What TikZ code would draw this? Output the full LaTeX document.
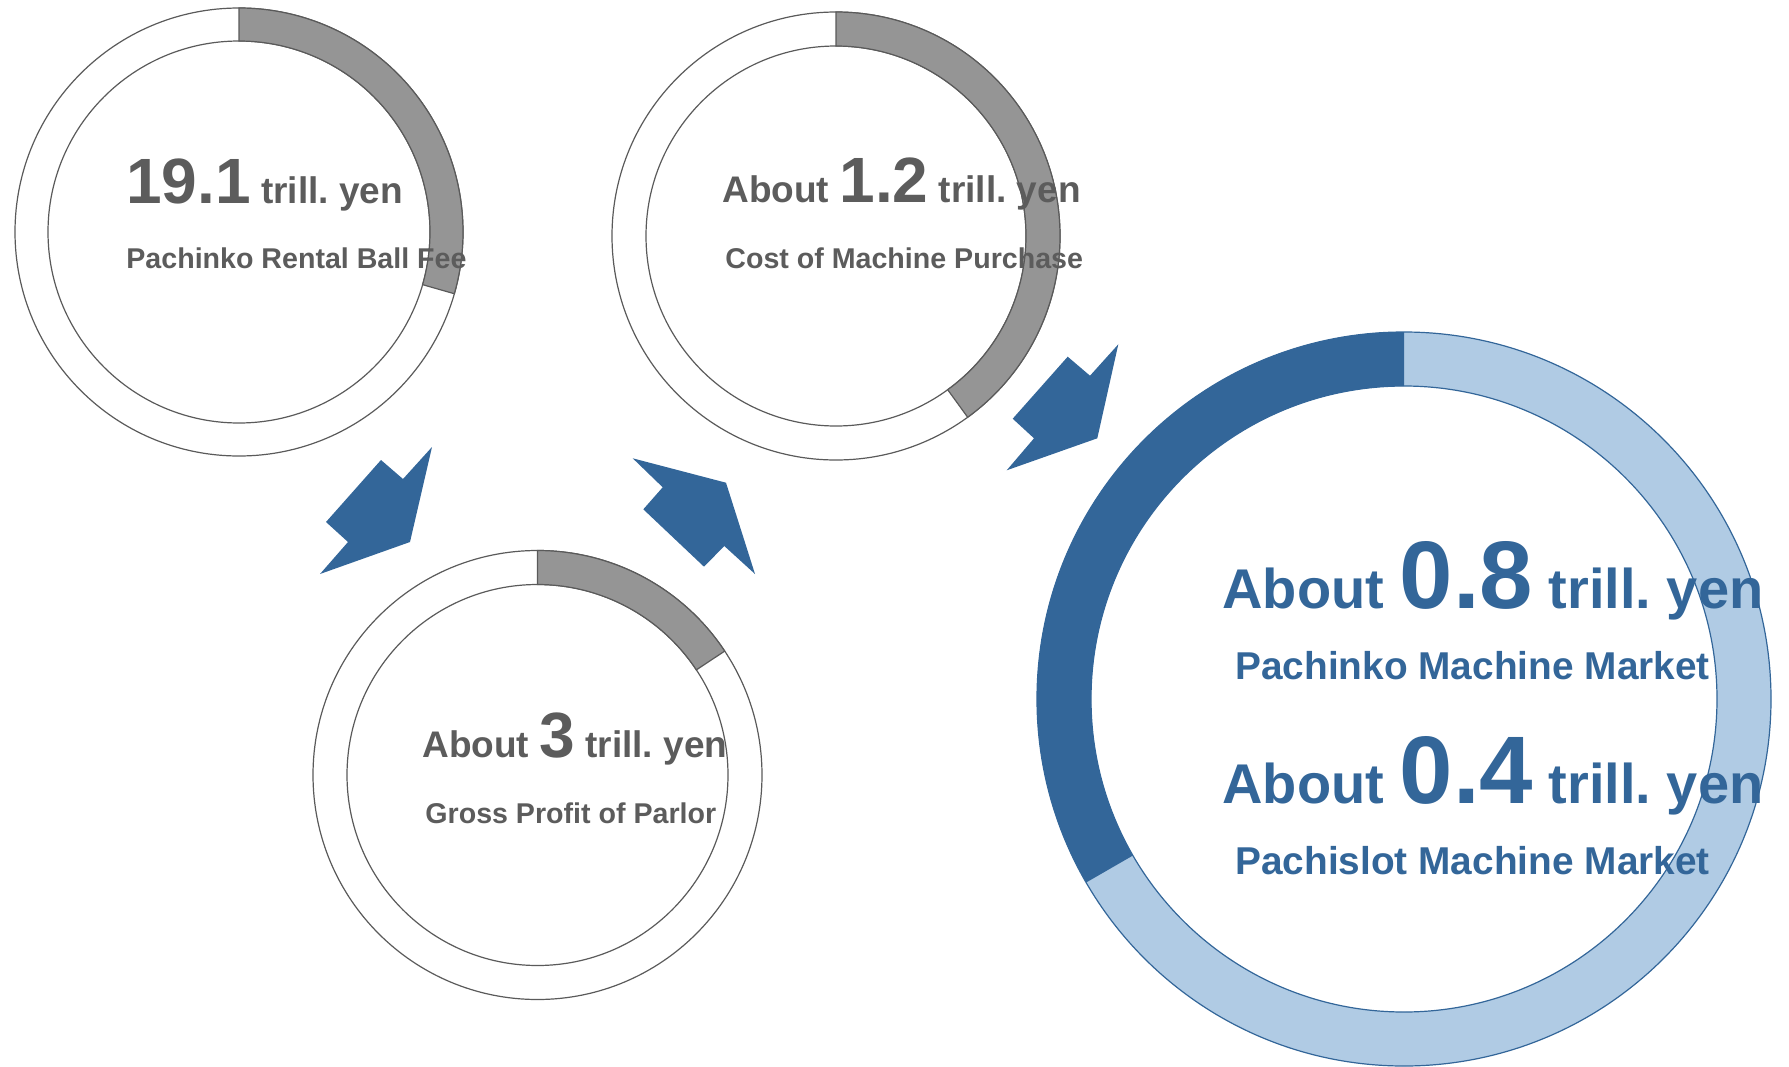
\documentclass[tikz,border=0pt]{standalone}
\usepackage{fontspec}
\setmainfont{Liberation Sans}
\usetikzlibrary{calc}
\frenchspacing
\definecolor{ringgray}{HTML}{959595}
\definecolor{linegray}{HTML}{5A5A5A}
\definecolor{txtgray}{HTML}{5C5C5C}
\definecolor{darkblue}{HTML}{336699}
\definecolor{lightblue}{HTML}{B0CBE4}
\newcommand\bignum[1]{{\fontsize{32}{34}\selectfont #1}}
\newcommand\hugenum[1]{{\fontsize{48}{50}\selectfont #1}}
\begin{document}
\begin{tikzpicture}[x=0.5pt,y=0.5pt,
  ringline/.style={draw=linegray,line width=0.6pt},
  graypart/.style={fill=ringgray,draw=linegray,line width=0.6pt},
  bluearrow/.style={fill=darkblue},
  greytext/.style={text=txtgray,anchor=base west,inner sep=0pt,font=\bfseries\fontsize{18.5}{20}\selectfont},
  greylabel/.style={text=txtgray,anchor=base west,inner sep=0pt,font=\bfseries\fontsize{14.3}{16}\selectfont},
  bluetext/.style={text=darkblue,anchor=base west,inner sep=0pt,font=\bfseries\fontsize{28}{30}\selectfont},
  bluelabel/.style={text=darkblue,anchor=base west,inner sep=0pt,font=\bfseries\fontsize{19.4}{21}\selectfont}]
\useasboundingbox (0,0) rectangle (1789,-1066);
\coordinate (rent) at (239,-232);
\coordinate (cost) at (836,-236);
\coordinate (gross) at (537.5,-775);
\coordinate (market) at (1404,-699);
\draw[ringline] (rent) circle (224) (rent) circle (191);
\filldraw[graypart] ($(rent)+(90:224)$) arc[start angle=90,end angle=-16,radius=224] -- ($(rent)+(-16:191)$) arc[start angle=-16,end angle=90,radius=191] -- cycle;
\draw[ringline] (cost) circle (224) (cost) circle (190);
\filldraw[graypart] ($(cost)+(90:224)$) arc[start angle=90,end angle=-54,radius=224] -- ($(cost)+(-54:190)$) arc[start angle=-54,end angle=90,radius=190] -- cycle;
\draw[ringline] (gross) circle (224.5) (gross) circle (190.5);
\filldraw[graypart] ($(gross)+(90:224.5)$) arc[start angle=90,end angle=33.5,radius=224.5] -- ($(gross)+(33.5:190.5)$) arc[start angle=33.5,end angle=90,radius=190.5] -- cycle;
\filldraw[fill=lightblue,draw=darkblue,line width=0.6pt,even odd rule] (market) circle (367) (market) circle (313);
\fill[darkblue] ($(market)+(90:367)$) arc[start angle=90,end angle=210,radius=367] -- ($(market)+(210:313)$) arc[start angle=210,end angle=90,radius=313] -- cycle;
\fill[bluearrow] (320,-574) -- (410,-542) -- (432,-447) -- (403,-479) -- (381,-460) -- (326,-522) -- (348,-542) -- cycle;
\fill[bluearrow] (632.7,-458.3) -- (726,-482.7) -- (755,-574) -- (724.3,-546) -- (704,-566.7) -- (643.3,-509.3) -- (662.7,-487.3) -- cycle;
\fill[bluearrow] (1118.3,-344.3) -- (1097.3,-438.3) -- (1006.7,-470.3) -- (1034,-438.3) -- (1012.7,-418.7) -- (1067.7,-356.7) -- (1090,-375.7) -- cycle;
\node[greytext] (rentval) at (126,-203) {\bignum{19.1} trill. yen};
\node[greylabel] (rentlab) at (126,-268) {Pachinko Rental Ball Fee};
\node[greytext] (costval) at (722,-202) {About \bignum{1.2} trill. yen};
\node[greylabel] (costlab) at (725,-268) {Cost of Machine Purchase};
\node[greytext] (grossval) at (422,-757) {About \bignum{3} trill. yen};
\node[greylabel] (grosslab) at (425,-823) {Gross Profit of Parlor};
\node[bluetext] (kinval) at (1222,-608) {About \hugenum{0.8} trill. yen};
\node[bluelabel] (kinlab) at (1235,-679) {Pachinko Machine Market};
\node[bluetext] (slotval) at (1222,-803) {About \hugenum{0.4} trill. yen};
\node[bluelabel] (slotlab) at (1235,-874) {Pachislot Machine Market};
\end{tikzpicture}
\end{document}
